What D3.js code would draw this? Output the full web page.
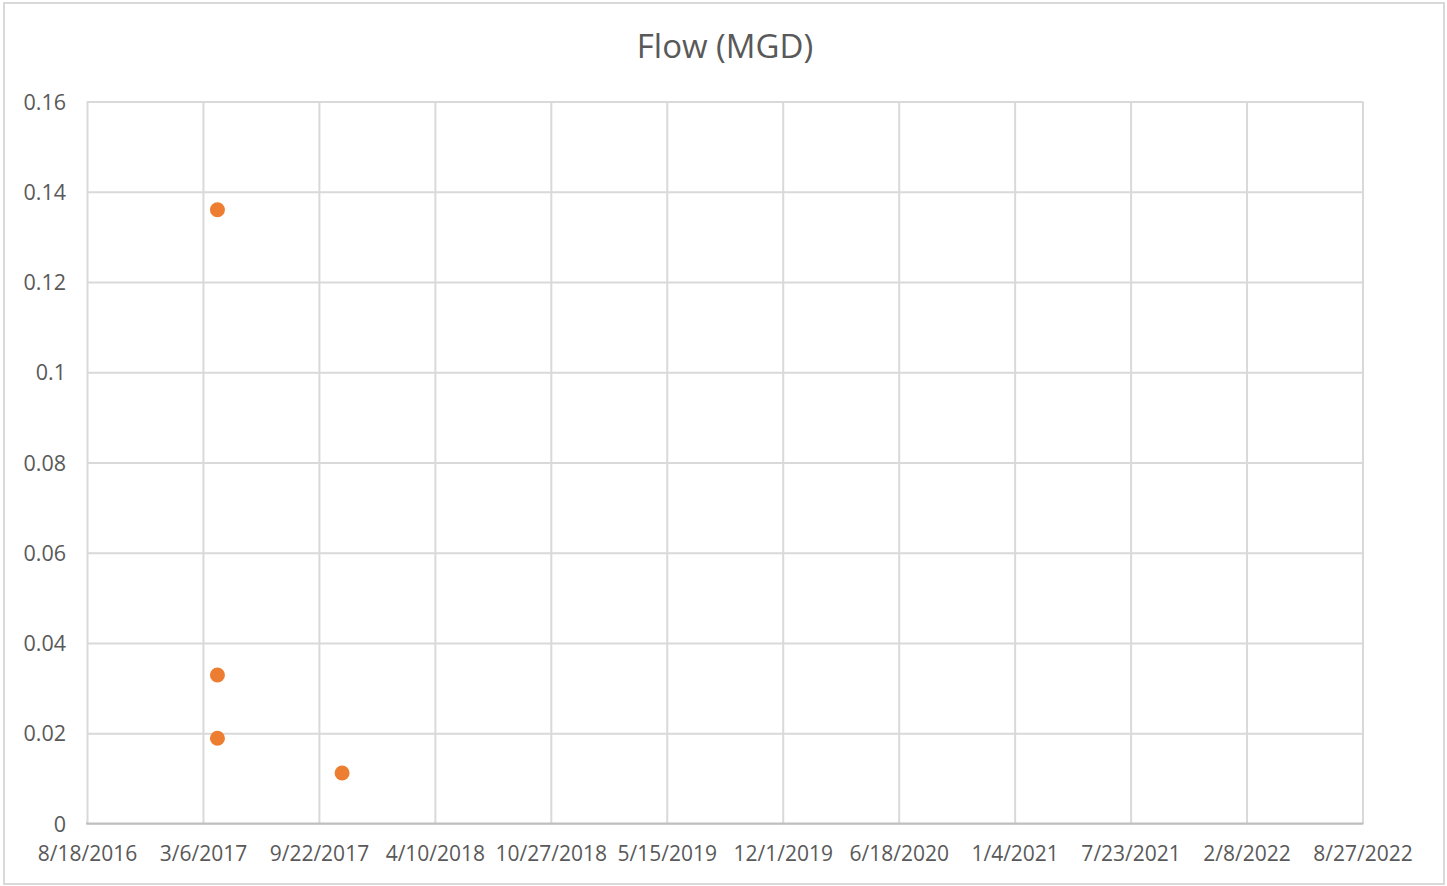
<!DOCTYPE html>
<html lang="en">
<head>
  <meta charset="UTF-8">
  <title>Flow (MGD)</title>
  <style>
    body { margin: 0; background: #fff; }
    text { font-family: 'Open Sans', sans-serif; fill: #595959; }
  </style>
</head>
<body>

  <svg id="svg" width="1447" height="886"></svg>

  <script src="https://d3js.org/d3.v7.min.js"></script>
  <script>
    // sample dates and flow values (MGD)
    const dates = ['2017-03-31', '2017-03-31', '2017-03-31', '2017-11-01']
    const flows = [0.136, 0.0329, 0.0189, 0.0112]

    const xTickLabels = ['8/18/2016', '3/6/2017', '9/22/2017', '4/10/2018', '10/27/2018', '5/15/2019',
      '12/1/2019', '6/18/2020', '1/4/2021', '7/23/2021', '2/8/2022', '8/27/2022']
    const yTicks = [0, 0.02, 0.04, 0.06, 0.08, 0.1, 0.12, 0.14, 0.16]

    const parseIso = d3.utcParse('%Y-%m-%d')
    const parseTick = d3.utcParse('%m/%d/%Y')
    const tickDates = xTickLabels.map(parseTick)
    const data = dates.map((d, i) => ({ date: parseIso(d), value: flows[i] }))

    const plotLeft = 87, plotRight = 1362.5, plotTop = 101.5, plotBottom = 823.5

    const xScale = d3.scaleUtc()
      .domain([tickDates[0], tickDates[tickDates.length - 1]])
      .range([plotLeft, plotRight])
    const yScale = d3.scaleLinear()
      .domain([0, 0.16])
      .range([plotBottom, plotTop])

    const svg = d3.select('#svg')

    // outer chart border
    svg.append('rect')
      .attr('x', 4).attr('y', 3)
      .attr('width', 1440).attr('height', 881)
      .attr('fill', '#fff')
      .attr('stroke', '#d9d9d9')
      .attr('stroke-width', 2)

    svg.append('text')
      .attr('x', 725).attr('y', 58)
      .attr('text-anchor', 'middle')
      .style('font-size', '33px')
      .text('Flow (MGD)')

    // y axis with gridlines
    const yAxis = svg.append('g')
      .attr('transform', `translate(${plotLeft},0)`)
      .call(d3.axisLeft(yScale)
        .tickValues(yTicks)
        .tickSize(-(plotRight - plotLeft))
        .tickPadding(21)
        .tickFormat(d => String(+d.toFixed(2))))
    yAxis.select('.domain').remove()
    yAxis.selectAll('line').attr('stroke', '#d9d9d9').attr('stroke-width', 2)
    yAxis.selectAll('text').style('font-size', '21.5px').attr('dy', '0.35em')

    // x axis with gridlines
    const xAxis = svg.append('g')
      .attr('transform', `translate(0,${plotBottom})`)
      .call(d3.axisBottom(xScale)
        .tickValues(tickDates)
        .tickSize(-(plotBottom - plotTop))
        .tickPadding(23)
        .tickFormat((d, i) => xTickLabels[i]))
    xAxis.select('.domain').remove()
    xAxis.selectAll('line').attr('stroke', '#d9d9d9').attr('stroke-width', 2)
    xAxis.selectAll('text').style('font-size', '21px')

    // x axis baseline
    svg.append('line')
      .attr('x1', plotLeft - 1).attr('x2', plotRight + 1)
      .attr('y1', plotBottom).attr('y2', plotBottom)
      .attr('stroke', '#bfbfbf')
      .attr('stroke-width', 2)

    svg.append('g')
      .selectAll('circle')
      .data(data)
      .enter()
      .append('circle')
      .attr('cx', d => xScale(d.date))
      .attr('cy', d => yScale(d.value))
      .attr('r', 7.5)
      .attr('fill', '#ed7d31')
  </script>
</body>
</html>
